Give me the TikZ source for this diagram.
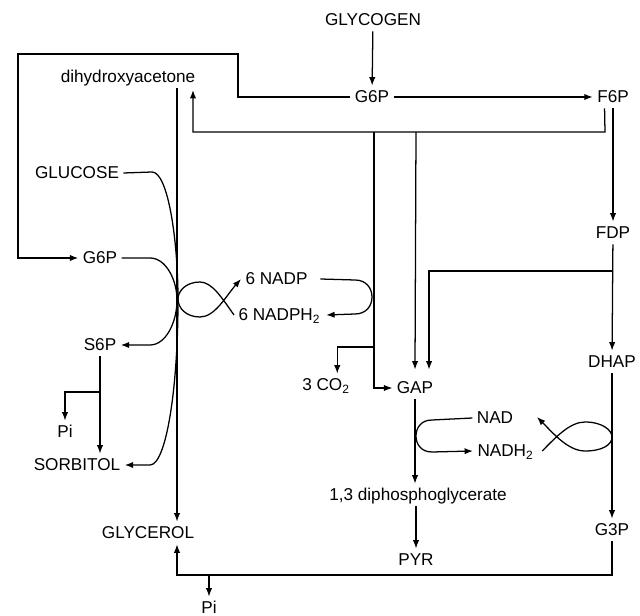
\documentclass[tikz,border=0pt]{standalone}
\usepackage{fontspec}
\setmainfont{Liberation Sans}
\usetikzlibrary{arrows.meta, positioning}

\begin{document}
\begin{tikzpicture}[
    x=0.025cm,
    y=-0.025cm,
    met/.style={
        font=\fontsize{12.2}{14}\selectfont,
        text height=8.8pt,
        text depth=1pt,
        inner sep=3pt
    },
    arrow/.style={
        -{Latex[length=6pt,width=4.5pt]},
        line width=0.9pt
    },
    line/.style={
        line width=0.9pt
    }
]
\useasboundingbox (0,0) rectangle (640,616);

% Glycolysis
\node[met] (glycogen) at (373,20) {GLYCOGEN};
\node[met] (g6p) at (372,97) {G6P};
\node[met] (f6p) at (613,97) {F6P};
\node[met] (fdp) at (613,233) {FDP};
\node[met] (dhap) at (612,362) {DHAP};
\node[met] (g3p) at (612,530) {G3P};
\node[met] (gap) at (415,388) {GAP};
\node[met] (dpg) at (418,495) {1,3 diphosphoglycerate};
\node[met] (pyr) at (416,560) {PYR};
\node[met] (nad) at (495,418) {NAD};
\node[met, anchor=west] (nadh) at (473,451) {NADH\textsubscript{2}};

% Polyol side
\node[met] (dha) at (128,77) {dihydroxyacetone};
\node[met] (glucose) at (77,173) {GLUCOSE};
\node[met] (g6pl) at (100,258) {G6P};
\node[met] (s6p) at (100,345) {S6P};
\node[met] (pil) at (65,432) {Pi};
\node[met] (sorbitol) at (77,465) {SORBITOL};
\node[met] (glycerol) at (148,533) {GLYCEROL};
\node[met] (pib) at (209,608) {Pi};

% Pentose shunt
\node[met, anchor=west] (nadp) at (241,279) {6 NADP};
\node[met, anchor=west] (nadph) at (234,315) {6 NADPH\textsubscript{2}};
\node[met] (co2) at (326,385) {3 CO\textsubscript{2}};

% Junctions
\coordinate (vx) at (177,0);
\coordinate (dhain) at (193,90);
\coordinate (bar) at (605,132);
\coordinate (split) at (613,271);
\coordinate (co2split) at (374,347);
\coordinate (s6psplit) at (100,392);
\coordinate (botl) at (177,575);
\coordinate (pisplit) at (209,575);
\coordinate (nadtip) at (537,417);

% Main chain
\draw[arrow] (glycogen) -- (g6p);
\draw[arrow] (g6p) -- (f6p);
\draw[arrow] (f6p) -- (fdp);
\draw[arrow] (fdp) -- (dhap);
\draw[arrow] (dhap) -- (g3p);
\draw[arrow] (gap.south) -- (gap.south |- dpg.north);
\draw[arrow] (pyr.north |- dpg.south) -- (pyr.north);

% G6P back to left side
\draw[arrow] (g6p.west) -| (238,54) -| (18,258) -- (g6pl.west);

% F6P bar
\draw[arrow] ([xshift=-6pt]f6p.south) -- (bar) -- (193,132) -- (dhain);
\draw[arrow] (374,132) |- (gap.west);
\draw[arrow] (416,132) -- ([yshift=5pt]gap.north);
\draw[arrow] (co2split) -| ([xshift=8pt]co2.north);
\draw[arrow] (split) -| ([xshift=10pt,yshift=5pt]gap.north);

% NADP turn
\draw[arrow] ([xshift=6pt]nadp.east) -- (355,280) .. controls (366,280) and (372,288) .. (372,297)
    .. controls (372,306) and (366,314) .. (355,314) -- ([xshift=1pt]nadph.east);

% NAD turn
\draw[arrow] (nad.west) -- (432,420) .. controls (421,420) and (416,428) .. (416,436)
    .. controls (416,444) and (421,452) .. (432,452) -- (nadh.west);

% Loops
\draw[arrow] (nadph.west) .. controls (222,298) and (212,282) .. (200,282)
    .. controls (186,282) and (178,291) .. (178,299)
    .. controls (178,308) and (186,317) .. (200,317)
    .. controls (215,317) and (226,296) .. (nadp.west);
\draw[arrow] ([xshift=3pt]nadh.east) .. controls (556,437) and (570,422) .. (585,422)
    .. controls (602,422) and (612,430) .. (612,437)
    .. controls (612,445) and (602,451) .. (585,451)
    .. controls (568,451) and (553,433) .. (nadtip);

% Polyol pathway
\draw[arrow] (glucose.east) -- (152,172) .. controls (168,172) and (178,240) .. (178,300)
    .. controls (178,390) and (166,465) .. (150,465) -- (sorbitol.east);
\draw[arrow] (g6pl.east) -- (150,258) .. controls (166,258) and (177,280) .. (177,300)
    .. controls (177,322) and (166,345) .. (150,345) -- (s6p.east);
\draw[arrow] (s6p.south) -- (s6p.south |- sorbitol.north);
\draw[arrow] (s6psplit) -| (pil.north);

% Glycerol
\draw[arrow] (vx |- dha.south) -- (vx |- glycerol.north);
\draw[arrow] (g3p.south) |- (botl) -- (vx |- glycerol.south);
\draw[arrow] (pisplit) -- (pib.north);

\end{tikzpicture}
\end{document}
